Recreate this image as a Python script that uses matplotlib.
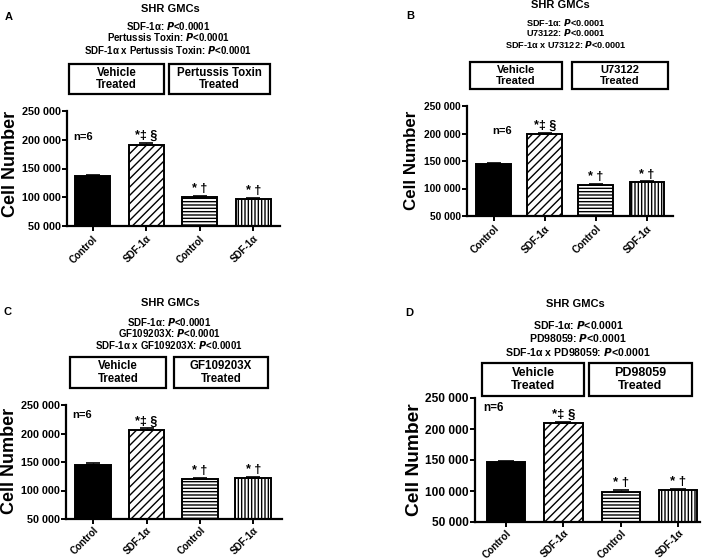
import matplotlib
matplotlib.use("Agg")
import matplotlib.pyplot as plt
from matplotlib.patches import Rectangle
import matplotlib.transforms as mtransforms

plt.rcParams['font.family'] = ['Liberation Sans', 'DejaVu Sans']
plt.rcParams['font.weight'] = 'bold'
plt.rcParams['hatch.linewidth'] = 1.0

# ---------------- data ----------------
x_labels = ["Control", "SDF-1α", "Control", "SDF-1α"]
y_ticks = [50000, 100000, 150000, 200000, 250000]
y_tick_labels = ["50 000", "100 000", "150 000", "200 000", "250 000"]

vals_A = [136500, 191500, 100500, 97500]
err_A = [2500, 3000, 2000, 1800]
vals_B = [144500, 199000, 107000, 111000]
err_B = [1800, 2500, 2000, 2000]
vals_C = [144500, 205500, 119500, 122000]
err_C = [3000, 3500, 2000, 2000]
vals_D = [146000, 209500, 99000, 102000]
err_D = [2000, 2500, 2000, 2000]

inhibitors = ["Pertussis Toxin", "U73122", "GF109203X", "PD98059"]
panel_letters = ["A", "B", "C", "D"]
title = "SHR GMCs"
n_label = "n=6"
sig_labels = ["", "*‡ §", "* †", "* †"]

W, H = 709, 560
fig = plt.figure(figsize=(W / 100, H / 100), dpi=100)


def fx(x):
    return x / W


def fy(y):
    return 1 - y / H


def draw_panel(letter, inhibitor, vals, errs, L):
    x0, x1, ytop, ybot = L['axes']
    ax = fig.add_axes([fx(x0), fy(ybot), fx(x1 - x0), (ybot - ytop) / H])
    pos = list(range(len(vals)))
    faces = ['black', 'white', 'white', 'white']
    hatches = [None, '////', '-----', '|||||']
    ax.bar(pos, [v - y_ticks[0] for v in vals], bottom=y_ticks[0], width=L['bw'],
           color=faces, edgecolor='black', linewidth=1.4, hatch=hatches, zorder=2)
    ax.errorbar(pos, vals, yerr=[[0] * len(errs), errs], fmt='none', ecolor='black',
                elinewidth=1.0, capsize=L['cap'], capthick=1.2, zorder=3)
    ax.set_ylim(y_ticks[0], y_ticks[-1])
    ax.set_xlim(L['xlim'])
    ax.set_yticks(y_ticks)
    ax.set_yticklabels(y_tick_labels, fontsize=L['yfs'], fontweight='bold')
    ax.set_xticks(pos)
    offset = mtransforms.ScaledTranslation(L['xoff'] / 100, 0, fig.dpi_scale_trans)
    ax.set_xticklabels(x_labels, fontsize=L['xfs'], fontweight='bold', rotation=45,
                       ha='right', va='top', rotation_mode='anchor')
    for t in ax.get_xticklabels():
        t.set_transform(t.get_transform() + offset)
    for s in ['top', 'right']:
        ax.spines[s].set_visible(False)
    for s in ['left', 'bottom']:
        ax.spines[s].set_linewidth(1.6)
    ax.tick_params(axis='y', direction='out', length=3.5, width=1.4, pad=1)
    ax.tick_params(axis='x', direction='out', length=3.5, width=1.4, pad=L['xpad'])
    ax.set_ylabel("Cell Number", fontsize=L['lfs'], fontweight='bold', va='center')
    ax.yaxis.set_label_coords((L['lab_x'] - x0) / (x1 - x0), (ybot - L['lab_y']) / (ybot - ytop))
    for p, v, e, s in zip(pos, vals, errs, sig_labels):
        if s:
            ax.text(p, v + e + 1500, s, ha='center', va='bottom', fontsize=L['sfs'],
                    fontweight='bold')
    fig.text(fx(L['n'][0]), fy(L['n'][1]), n_label, ha='left', va='center',
             fontsize=L['nfs'], fontweight='bold')
    fig.text(fx(L['letter'][0]), fy(L['letter'][1]), letter, ha='left', va='center',
             fontsize=8, fontweight='bold')
    fig.text(fx(L['title'][0]), fy(L['title'][1]), title, ha='center', va='center',
             fontsize=8, fontweight='bold')
    stats = ["SDF-1α: $\\mathbf{\\mathit{P}}$<0.0001",
             inhibitor + ": $\\mathbf{\\mathit{P}}$<0.0001",
             "SDF-1α x " + inhibitor + ": $\\mathbf{\\mathit{P}}$<0.0001"]
    for s, yy in zip(stats, L['stats_y']):
        fig.text(fx(L['stats_x']), fy(yy), s, ha='center', va='center',
                 fontsize=L['stfs'], fontweight='bold')
    by0, by1 = L['box_y']
    for (bx0, bx1), txt in zip(L['boxes'], ["Vehicle\nTreated", inhibitor + "\nTreated"]):
        fig.add_artist(Rectangle((fx(bx0), fy(by1)), fx(bx1 - bx0), (by1 - by0) / H,
                                 transform=fig.transFigure, fill=False,
                                 edgecolor='black', linewidth=1.6))
        fig.text(fx((bx0 + bx1) / 2), fy((by0 + by1) / 2), txt, ha='center', va='center',
                 fontsize=L['bfs'], fontweight='bold', linespacing=1.1)
    return ax


layouts = {
    'A': dict(axes=(67, 280, 111, 226), xlim=(-0.48, 3.5), bw=0.65, cap=5,
              yfs=7.8, xfs=7.0, xpad=2, lfs=13, lab_x=10, lab_y=164, sfs=9, nfs=8,
              n=(73, 137), letter=(5, 17), title=(170, 9), stats_x=168,
              stats_y=(26, 37, 50), stfs=7.0, box_y=(64, 94),
              boxes=[(69, 164), (169, 270)], bfs=8.3, xoff=0.05),
    'B': dict(axes=(467, 673, 106, 216), xlim=(-0.52, 3.51), bw=0.68, cap=5,
              yfs=7.4, xfs=7.2, xpad=2, lfs=12.2, lab_x=412, lab_y=160, sfs=9, nfs=8,
              n=(492, 131), letter=(406, 16), title=(560, 5), stats_x=566,
              stats_y=(23, 33, 44), stfs=6.6, box_y=(62, 89),
              boxes=[(470, 562), (572, 668)], bfs=8.0, xoff=0.05),
    'C': dict(axes=(66, 282, 405, 519), xlim=(-0.51, 3.54), bw=0.67, cap=5,
              yfs=7.8, xfs=7.0, xpad=1, lfs=13, lab_x=10, lab_y=461, sfs=9, nfs=8,
              n=(72, 415), letter=(4, 312), title=(170, 303), stats_x=169,
              stats_y=(322, 333, 345), stfs=7.0, box_y=(357, 388),
              boxes=[(70, 166), (174, 268)], bfs=8.3, xoff=0.05),
    'D': dict(axes=(475, 700, 398, 522), xlim=(-0.54, 3.38), bw=0.67, cap=5.5,
              yfs=8.6, xfs=7.2, xpad=1, lfs=13.8, lab_x=415, lab_y=460, sfs=9.5, nfs=8.5,
              n=(483, 408), letter=(405, 313), title=(575, 304), stats_x=578,
              stats_y=(325, 338, 352), stfs=7.6, box_y=(363, 396),
              boxes=[(482, 584), (589, 692)], bfs=9, xoff=0.03),
}

all_vals = [vals_A, vals_B, vals_C, vals_D]
all_errs = [err_A, err_B, err_C, err_D]
for letter, inh, v, e in zip(panel_letters, inhibitors, all_vals, all_errs):
    draw_panel(letter, inh, v, e, layouts[letter])

fig.savefig("out.png", dpi=100)
